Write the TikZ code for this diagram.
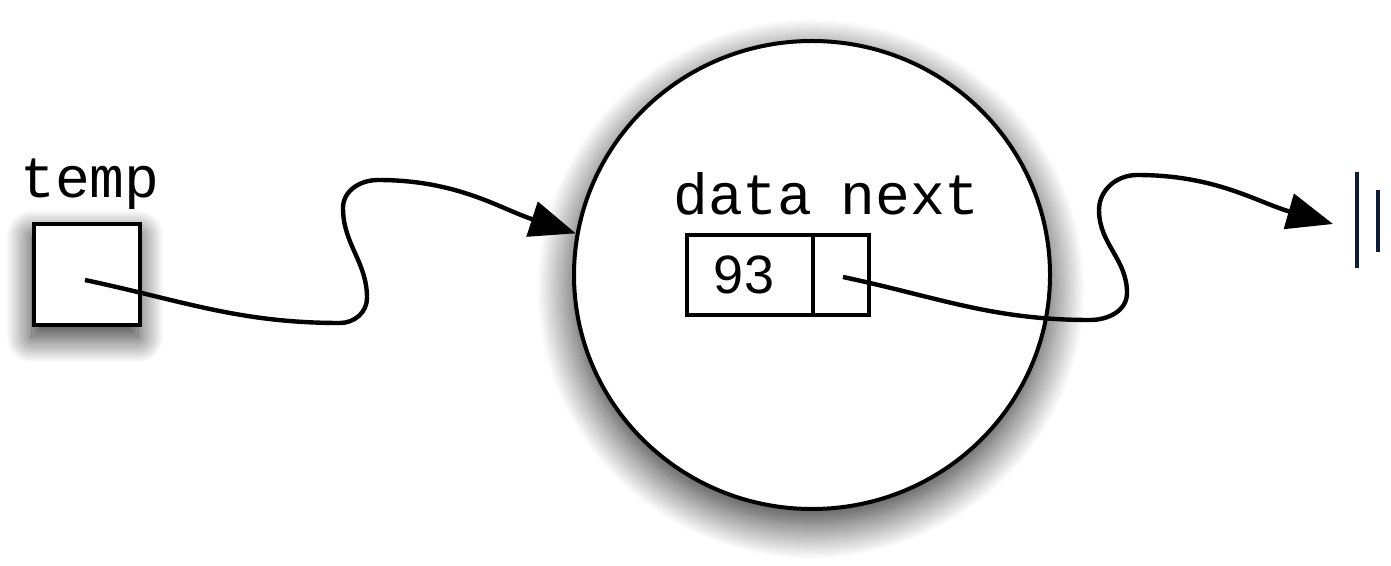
\documentclass[tikz,border=0pt]{standalone}
\usepackage{fontspec}
\newfontfamily\cmono{Liberation Mono}
\newfontfamily\csans{Liberation Sans}
\usetikzlibrary{shadows.blur,arrows.meta,shapes.geometric}
\definecolor{navy}{HTML}{0D1B3D}
\tikzset{
  box/.style={draw=black, line width=2pt, fill=white, inner sep=0pt},
  cell/.style={box, outer sep=0pt, minimum height=40pt},
  monolabel/.style={font=\cmono\fontsize{29}{32}\selectfont, inner sep=0pt, anchor=base},
  pointer/.style={draw=black, line width=2.2pt, -{Triangle[length=23pt,width=18pt]}},
  nullbar/.style={draw=navy, line width=2pt},
}
\begin{document}
\begin{tikzpicture}[x=0.5pt,y=0.5pt]
\useasboundingbox (0,0) rectangle (1391,-566);
% list node circle
\node[box, ellipse, minimum width=238pt, minimum height=234pt,
  blur shadow={shadow xshift=-0.5pt, shadow yshift=-7pt, shadow blur radius=18pt,
    shadow opacity=85, shadow blur steps=30}]
  (node93) at (812,-275) {};
% temp variable
\node[box, minimum width=53pt, minimum height=50.5pt,
  blur shadow={shadow xshift=-1pt, shadow yshift=-6pt, shadow blur radius=13pt,
    shadow opacity=85, shadow blur steps=30}]
  (tempbox) at (87,-274.5) {};
\node[monolabel] (templabel) at (90,-198) {temp};
% record fields
\node[cell, minimum width=63pt] (datacell) at (750,-275)
  {\csans\fontsize{27}{30}\selectfont\hspace*{-6pt}93};
\node[cell, minimum width=28pt, anchor=west] (nextcell) at (datacell.east) {};
\node[monolabel] (datalabel) at (743,-215) {data};
\node[monolabel] (nextlabel) at (910,-215) {next};
% pointer origins
\coordinate (tempptr) at (85,-280);
\coordinate (nextptr) at (843,-277);
\coordinate (nullend) at (1333,-224);
% pointers
\draw[pointer] (tempptr) to[out=-12,in=180] (340,-323) to[out=0,in=-90] (367,-298)
  to[out=90,in=-90] (343,-208) to[out=90,in=180] (378,-180) to[out=0,in=162] (node93.170);
\draw[pointer] (nextptr) to[out=-12,in=180] (1090,-320) to[out=0,in=-90] (1127,-293)
  to[out=90,in=-90] (1099,-210) to[out=90,in=180] (1137,-175) to[out=0,in=164] (nullend);
% null terminator
\draw[nullbar] (1357,-172) -- (1357,-268);
\draw[nullbar] (1378,-190) -- (1378,-252);
\end{tikzpicture}
\end{document}
